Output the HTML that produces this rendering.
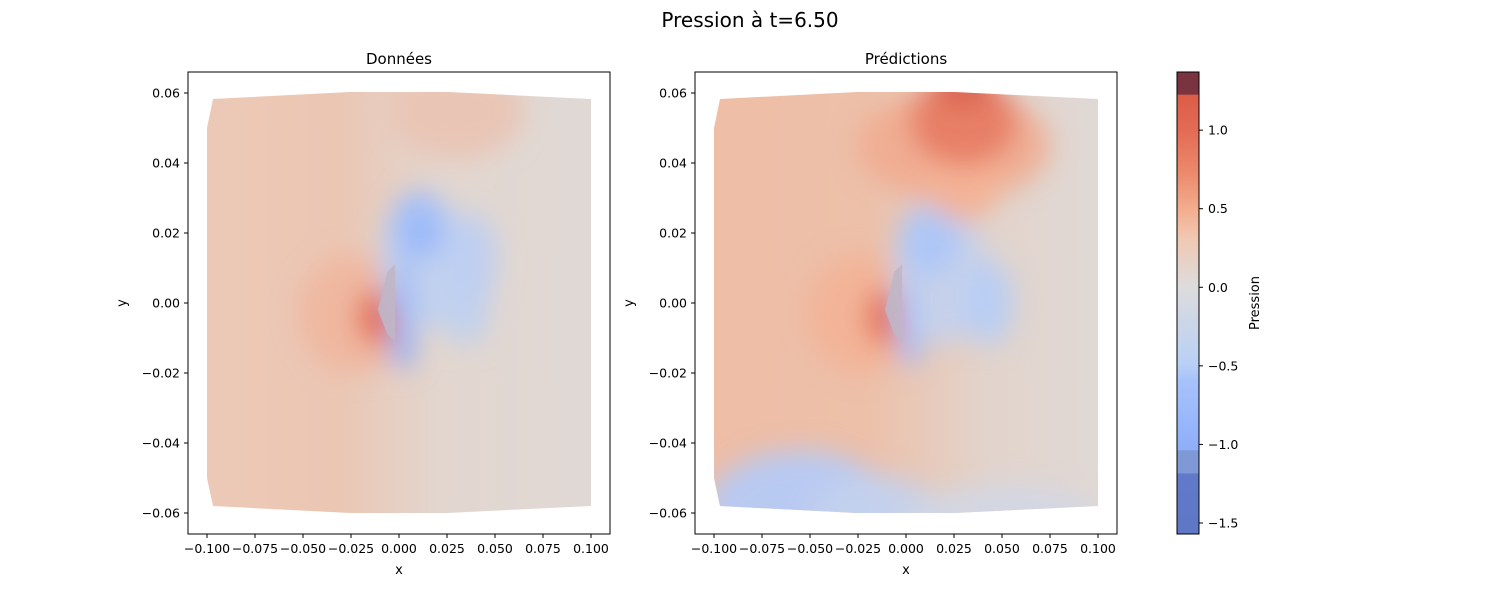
<!DOCTYPE html>
<html><head><meta charset="utf-8">
<style>
html,body{margin:0;padding:0;background:#fff;}
svg{display:block;font-family:"DejaVu Sans","Liberation Sans",sans-serif;}
</style></head>
<body>
<svg id="fig" width="1500" height="600" viewBox="0 0 1500 600" xmlns="http://www.w3.org/2000/svg">
<defs>
<filter id="blur" x="-50%" y="-50%" width="200%" height="200%"><feGaussianBlur stdDeviation="13"/></filter>
<linearGradient id="baseL" x1="0" y1="0" x2="1" y2="0">
<stop offset="0" stop-color="#ecc9b7"/><stop offset="0.35" stop-color="#ebc6b3"/><stop offset="0.6" stop-color="#e2d6cf"/><stop offset="1" stop-color="#e0d9d6"/></linearGradient>
<linearGradient id="baseR" x1="0" y1="0" x2="1" y2="0">
<stop offset="0" stop-color="#eebda6"/><stop offset="0.4" stop-color="#edc0a9"/><stop offset="0.7" stop-color="#e2d4cc"/><stop offset="1" stop-color="#e0d9d6"/></linearGradient>
<linearGradient id="cbar" x1="0" y1="1" x2="0" y2="0">
<stop offset="0" stop-color="#5e78c6"/><stop offset="0.13" stop-color="#6079c8"/><stop offset="0.132" stop-color="#7f98d6"/><stop offset="0.18" stop-color="#7f98d6"/><stop offset="0.182" stop-color="#8eaefa"/><stop offset="0.33" stop-color="#a7c2fb"/><stop offset="0.37" stop-color="#bad0f6"/><stop offset="0.535" stop-color="#dddcdc"/><stop offset="0.64" stop-color="#f1c8b2"/><stop offset="0.70" stop-color="#f3ae90"/><stop offset="0.78" stop-color="#ec8a6c"/><stop offset="0.87" stop-color="#e36c54"/><stop offset="0.95" stop-color="#dc5c48"/><stop offset="0.952" stop-color="#7a3440"/><stop offset="1" stop-color="#7a3440"/></linearGradient>
<clipPath id="domL"><polygon points="213,99 207,128 207,478 213,506 350,513 447,513 591,506 591,99 447,92 350,92"/></clipPath>
<clipPath id="domR"><polygon points="720,99 714,128 714,478 720,506 857,513 954,513 1098,506 1098,99 954,92 857,92"/></clipPath>
</defs>
<text x="750" y="27" text-anchor="middle" font-size="20">Pression à t=6.50</text>
<g id="panels"></g>
<g id="colorbar"></g>
</svg>
<script>
const xTicks=[-0.100,-0.075,-0.050,-0.025,0.000,0.025,0.050,0.075,0.100];
const xTickLabels=["−0.100","−0.075","−0.050","−0.025","0.000","0.025","0.050","0.075","0.100"];
const yTicks=[0.06,0.04,0.02,0.00,-0.02,-0.04,-0.06];
const yTickLabels=["0.06","0.04","0.02","0.00","−0.02","−0.04","−0.06"];
const cbTicks=[1.0,0.5,0.0,-0.5,-1.0,-1.5];
const cbTickLabels=["1.0","0.5","0.0","−0.5","−1.0","−1.5"];
const cbMin=-1.57, cbMax=1.37;
// pressure blobs: [x, y, radius-x, radius-y (data units), value]
const blobsData=[[-0.022,-0.003,0.03,0.017,0.45],[-0.012,-0.004,0.01,0.008,1.0],[0.012,0.012,0.022,0.02,-0.35],[0.01,0.022,0.014,0.01,-0.75],[0.013,0.019,0.007,0.005,-0.85],[0.002,0.0,0.006,0.012,-0.8],[0.002,-0.013,0.007,0.006,-0.95],[0.038,0.012,0.013,0.014,-0.4],[0.035,-0.003,0.012,0.009,-0.35],[0.03,0.055,0.035,0.014,0.3]];
const blobsPred=[[-0.022,-0.003,0.03,0.017,0.5],[-0.012,-0.004,0.009,0.008,1.0],[0.018,0.008,0.025,0.02,-0.3],[0.012,0.018,0.016,0.01,-0.6],[0.001,-0.003,0.006,0.01,-0.6],[0.002,-0.013,0.006,0.005,-0.8],[0.043,0.0,0.013,0.012,-0.45],[0.025,0.045,0.05,0.016,0.55],[0.03,0.035,0.02,0.012,0.5],[0.03,0.052,0.028,0.013,0.9],[0.03,0.062,0.016,0.006,1.15],[-0.055,-0.06,0.05,0.018,-0.5],[-0.015,-0.062,0.035,0.013,-0.3],[0.05,-0.062,0.05,0.01,-0.15]];
const panels=[{x0:188,title:"Données",blobs:blobsData,clip:"domL",base:"baseL",name:"donnees"},{x0:695,title:"Prédictions",blobs:blobsPred,clip:"domR",base:"baseR",name:"predictions"}];
const W=422,T0=72,H=462;
const NS="http://www.w3.org/2000/svg";
function mk(t,a,p){const e=document.createElementNS(NS,t);for(const k in a)e.setAttribute(k,a[k]);p.appendChild(e);return e;}
function colorOf(v){
 const stops=[[-1.5,[96,121,200]],[-1,[141,174,250]],[-0.5,[178,203,250]],[0,[221,220,220]],[0.5,[243,178,150]],[1,[226,108,84]],[1.37,[205,80,70]]];
 if(v<=stops[0][0])return 'rgb('+stops[0][1]+')';
 for(let i=1;i<stops.length;i++){if(v<=stops[i][0]){const a=stops[i-1],b=stops[i];const t=(v-a[0])/(b[0]-a[0]);return 'rgb('+a[1].map((c,j)=>Math.round(c+(b[1][j]-c)*t)).join(',')+')';}}
 return 'rgb('+stops[stops.length-1][1]+')';}
const g=document.getElementById('panels');
panels.forEach(p=>{
 const sx=v=>p.x0+19+(v+0.1)*1920, sy=v=>303-v*3500;
 const ax=mk('g',{},g);
 
 
 const field=mk('g',{'clip-path':'url(#'+p.clip+')'},ax);
 
 
 mk('rect',{x:p.x0,y:T0,width:W,height:H,fill:'url(#'+p.base+')'},field);
 const bg=mk('g',{filter:'url(#blur)'},field);
 p.blobs.forEach(b=>{
  const c=mk('ellipse',{cx:sx(b[0]),cy:sy(b[1]),rx:b[2]*1920,ry:b[3]*3500,fill:colorOf(b[4]),opacity:0.9},bg);
  
  
 });
 const ob=mk('polygon',{points:[[sx(-0.006),sy(0.009)],[sx(-0.002),sy(0.011)],[sx(-0.002),sy(-0.011)],[sx(-0.006),sy(-0.009)],[sx(-0.011),sy(-0.002)]].map(q=>q.join(',')).join(' '),fill:'#c0b6c6',opacity:0.9},ax);
 
 
 const fr=mk('rect',{x:p.x0,y:T0,width:W,height:H,fill:'none',stroke:'#000','stroke-width':1},ax);
 
 
 const tt=mk('text',{x:p.x0+W/2,y:64,'text-anchor':'middle','font-size':15},ax);tt.textContent=p.title;
 
 
 xTicks.forEach((v,i)=>{const X=sx(v);mk('line',{x1:X,x2:X,y1:T0+H,y2:T0+H+4,stroke:'#000'},ax);
  const t=mk('text',{x:X,y:T0+H+19,'text-anchor':'middle','font-size':12.5},ax);t.textContent=xTickLabels[i];
  
  });
 yTicks.forEach((v,i)=>{const Y=sy(v);mk('line',{x1:p.x0-4,x2:p.x0,y1:Y,y2:Y,stroke:'#000'},ax);
  const t=mk('text',{x:p.x0-8,y:Y+4.5,'text-anchor':'end','font-size':12.5},ax);t.textContent=yTickLabels[i];
  
  });
 const xl=mk('text',{x:p.x0+W/2,y:574,'text-anchor':'middle','font-size':13},ax);xl.textContent='x';
 
 
 const yl=mk('text',{x:0,y:0,'text-anchor':'middle','font-size':13,transform:'translate('+(p.x0-62)+',303) rotate(-90)'},ax);yl.textContent='y';
 
 
});
const cb=document.getElementById('colorbar');
const cy=v=>534-(v-cbMin)/(cbMax-cbMin)*462;
mk('rect',{x:1177,y:72,width:22,height:462,fill:'url(#cbar)',stroke:'#000','stroke-width':1},cb);
cbTicks.forEach((v,i)=>{const Y=cy(v);mk('line',{x1:1199,x2:1203,y1:Y,y2:Y,stroke:'#000'},cb);
 const t=mk('text',{x:1208,y:Y+4.5,'font-size':12.5},cb);t.textContent=cbTickLabels[i];
 
 });
const cl=mk('text',{x:0,y:0,'text-anchor':'middle','font-size':13,transform:'translate(1259,303) rotate(-90)'},cb);cl.textContent='Pression';


</script>
</body></html>
